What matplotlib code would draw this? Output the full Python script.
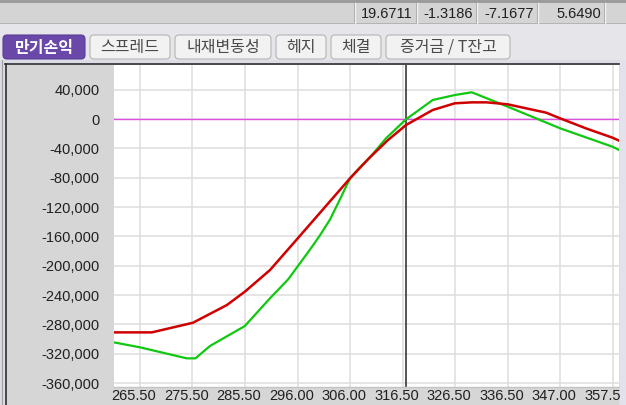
#!/usr/bin/env python3
import matplotlib

matplotlib.use("Agg")
import matplotlib.pyplot as plt
import numpy as np
from matplotlib import font_manager
from matplotlib.patches import Rectangle, FancyBboxPatch
from matplotlib.transforms import ScaledTranslation


W, H = 626, 405

# status bar numbers and tabs
STATUS_VALUES = ["19.6711", "-1.3186", "-7.1677", "5.6490"]
TAB_NAMES = ["만기손익", "스프레드", "내재변동성", "헤지", "체결", "증거금 / T잔고"]

# axis ticks
X_TICK_LABELS = ["265.50", "275.50", "285.50", "296.00", "306.00",
                 "316.50", "326.50", "336.50", "347.00", "357.50"]
Y_TICKS = [40000, 0, -40000, -80000, -120000, -160000, -200000,
           -240000, -280000, -320000, -360000]

# red curve (underlying price, P/L)
RED_X = [260.4, 267.8, 275.8, 282.4, 285.9, 290.8, 296.1, 306.4, 310.3,
         313.8, 317.3, 322.5, 326.8, 330.1, 333.0, 337.1, 344.6, 347.3,
         352.3, 357.5, 358.8]
RED_Y = [-290900, -290900, -277800, -253700, -235500, -206000, -163600,
         -80800, -52000, -28600, -8200, 12300, 21400, 22700, 22700, 20000,
         8600, 900, -12700, -25500, -29600]

# green curve
GREEN_X = [260.4, 265.5, 274.6, 276.3, 279.1, 285.9, 290.8, 294.3, 296.3,
           298.6, 300.5, 302.5, 304.4, 306.4, 308.3, 310.3, 313.4, 317.3,
           322.5, 326.8, 330.1, 337.1, 347.3, 357.5, 358.8]
GREEN_Y = [-304500, -311300, -326300, -326300, -309600, -282300, -244500,
           -219000, -200000, -178000, -159000, -137000, -110000, -80800,
           -66000, -52000, -26300, -400, 25900, 32700, 36400, 16800, -12700,
           -37800, -42300]

CURSOR_X = 317.3

_names = {f.name for f in font_manager.fontManager.ttflist}
if "Liberation Sans Narrow" in _names:
    NUM_FONT, NUM_SIZE = "Liberation Sans Narrow", 12
else:
    NUM_FONT, NUM_SIZE = "Liberation Sans", 10.5
KR_FONT = ["Noto Sans CJK KR", "DejaVu Sans"]


def fx(px):
    return px / W


def fy(py):
    return 1 - py / H


fig = plt.figure(figsize=(W / 100, H / 100), dpi=100)
fig.patch.set_facecolor("#e6e6ea")

# background "window chrome" drawn in pixel coordinates
bg = fig.add_axes([0, 0, 1, 1], zorder=0)
bg.set_xlim(0, W)
bg.set_ylim(H, 0)
bg.axis("off")

bg.add_patch(Rectangle((0, 0), W, 3, color="#9c9c9c", lw=0))
bg.add_patch(Rectangle((0, 3), W, 20, color="#d4d4d4", lw=0))
bg.add_patch(Rectangle((0, 23), W, 1, color="#b4b4b4", lw=0))

cell_edges = [355, 417, 477, 538, 605]
for ex in cell_edges:
    bg.plot([ex, ex], [3, 23], color="#f4f4f4", lw=1.0)
    bg.plot([ex - 1, ex - 1], [3, 23], color="#b0b0b0", lw=0.8)
for value, right in zip(STATUS_VALUES, cell_edges[1:]):
    bg.text(right - 4, 13.5, value, ha="right", va="center",
            fontsize=NUM_SIZE, family=NUM_FONT, color="#202020")

# tabs
tab_spans = [(2, 86), (89, 171), (174, 272), (275, 327), (330, 382), (385, 511)]
for i, (name, (x0, x1)) in enumerate(zip(TAB_NAMES, tab_spans)):
    active = i == 0
    bg.add_patch(FancyBboxPatch(
        (x0 + 1, 35), x1 - x0 - 2, 24,
        boxstyle="round,pad=0,rounding_size=4",
        fc="#6a48aa" if active else "#f2f2f2",
        ec="#5a3c96" if active else "#b4b4b4", lw=0.8))
    bg.text((x0 + x1) / 2, 47.5, name, ha="center", va="center",
            fontsize=11.5, family=KR_FONT,
            fontweight="bold" if active else "normal",
            color="white" if active else "#4a4a4a")

# chart panel
bg.add_patch(Rectangle((0, 60), W, H - 60, color="#dcdce6", lw=0))
bg.add_patch(Rectangle((5, 64), 614, H - 64, color="#d6d6d6", lw=0))
bg.plot([5, 619], [63.5, 63.5], color="#303030", lw=1.2)
bg.plot([5.5, 5.5], [63.5, H], color="#303030", lw=1.2)
bg.plot([2, 2], [60, H], color="#a0a0a0", lw=0.8)

# plot area
ax = fig.add_axes([fx(114), fy(387), fx(619 - 114), (387 - 65) / H], zorder=1)
ax.set_facecolor("white")

x_ticks = np.linspace(265.5, 357.5, len(X_TICK_LABELS))
ax.set_xlim(260.44, 358.76)
ax.set_ylim(-365370, 73620)
ax.set_xticks(x_ticks)
ax.set_xticklabels(X_TICK_LABELS, family=NUM_FONT, fontsize=NUM_SIZE, color="#202020")
ax.set_yticks(Y_TICKS)
ax.set_yticklabels([f"{v:,}" for v in Y_TICKS], family=NUM_FONT,
                   fontsize=NUM_SIZE, color="#202020")
ax.tick_params(axis="x", length=0, pad=1.5)
ax.tick_params(axis="y", length=0, pad=10.5)
shift = ScaledTranslation(-6 / 100, 0, fig.dpi_scale_trans)
for label in ax.get_xticklabels():
    label.set_transform(label.get_transform() + shift)

ax.grid(True, color="#dedede", lw=1.1)
ax.set_axisbelow(True)
for spine in ax.spines.values():
    spine.set_visible(False)
ax.spines["bottom"].set_visible(True)
ax.spines["bottom"].set_color("#c4c4c4")
ax.spines["bottom"].set_linewidth(1.0)

ax.axhline(0, color="#e050e0", lw=1.0, zorder=2)
ax.axvline(CURSOR_X, color="#383838", lw=1.2, zorder=2)
ax.plot(GREEN_X, GREEN_Y, color="#10c810", lw=1.6, zorder=3)
ax.plot(RED_X, RED_Y, color="#d00000", lw=1.8, zorder=4)

# right edge strip covering the last label
fig.patches.append(Rectangle((fx(620), 0), fx(6), fy(60), transform=fig.transFigure,
                             color="#e2e2ec", lw=0, zorder=5))

fig.savefig("out.png", dpi=100)
